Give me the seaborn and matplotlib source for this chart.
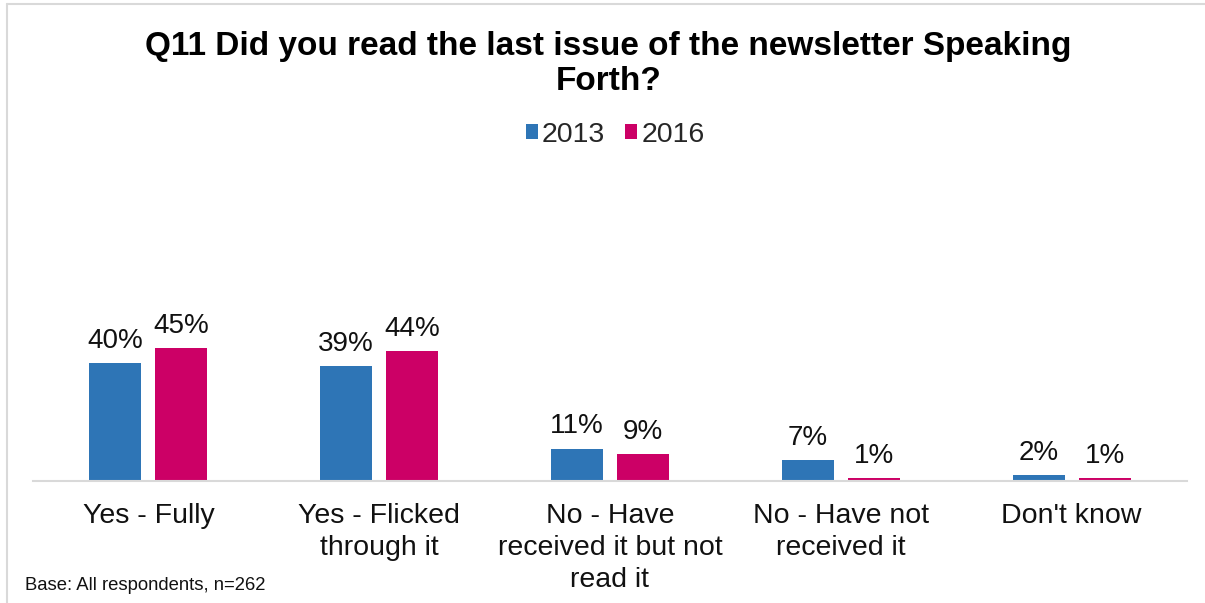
import pandas as pd
import matplotlib.pyplot as plt
import seaborn as sns
from matplotlib.lines import Line2D

# ---------------- DATA ----------------
categories = [
    "Yes - Fully",
    "Yes - Flicked\nthrough it",
    "No - Have\nreceived it but not\nread it",
    "No - Have not\nreceived it",
    "Don't know",
]
years = ["2013", "2016"]
values_2013 = [40, 39, 11, 7, 2]
values_2016 = [45, 44, 9, 1, 1]
colors = {"2013": "#2E75B6", "2016": "#CC0066"}

data = pd.DataFrame({
    "category": categories * 2,
    "year": ["2013"] * len(categories) + ["2016"] * len(categories),
    "value": values_2013 + values_2016,
})

# ---------------- PLOT ----------------
sns.set_style("white")
plt.rcParams["font.family"] = ["Liberation Sans", "DejaVu Sans"]

fig = plt.figure(figsize=(12.05, 6.03), dpi=100)
ax = fig.add_axes([33 / 1205, 1 - 481 / 603, (1187 - 33) / 1205, (481 - 170) / 603])

sns.barplot(data=data, x="category", y="value", hue="year", hue_order=years,
            palette=colors, width=0.572, gap=0.21, saturation=1,
            edgecolor="none", ax=ax, legend=True)

ax.set_ylim(0, (481 - 170) / 2.95)
ax.set_xlim(-0.5, len(categories) - 0.5)
ax.set_xlabel("")
ax.set_ylabel("")
ax.set_yticks([])
for s in ["top", "right", "left"]:
    ax.spines[s].set_visible(False)
ax.spines["bottom"].set_color("#D9D9D9")
ax.spines["bottom"].set_linewidth(1.5)
ax.tick_params(axis="x", length=0, pad=16, labelsize=20.5, labelcolor="#111111")
for lbl in ax.get_xticklabels():
    lbl.set_linespacing(1.3)

# value labels
for container in ax.containers:
    for bar in container:
        h = bar.get_height()
        ax.annotate(f"{h:.0f}%", (bar.get_x() + bar.get_width() / 2, h),
                    xytext=(0, 16), textcoords="offset points",
                    ha="center", va="center", fontsize=20, color="#111111")

# legend
handles, labels = ax.get_legend_handles_labels()
ax.legend(handles, labels, loc="center", bbox_to_anchor=(615 / 1205, 1 - 135 / 603),
          bbox_transform=fig.transFigure, ncol=2, frameon=False, fontsize=20.5,
          handlelength=0.42, handleheight=0.42, handletextpad=0.15,
          columnspacing=0.7)

# title and footnote
fig.text(0.505, 1 - 64 / 603, "Q11 Did you read the last issue of the newsletter Speaking\nForth?",
         ha="center", va="center", fontsize=24, fontweight="bold", linespacing=1.2,
         color="#000000")
fig.text(25 / 1205, 1 - 585 / 603, "Base: All respondents, n=262",
         ha="left", va="center", fontsize=13.3, color="#111111")

# frame lines
fig.add_artist(Line2D([7 / 1205, 7 / 1205], [0, 1 - 4 / 603], color="#D9D9D9", lw=1.5))
fig.add_artist(Line2D([7 / 1205, 1], [1 - 4 / 603, 1 - 4 / 603], color="#D9D9D9", lw=1.5))

fig.savefig("out.png", dpi=100)
